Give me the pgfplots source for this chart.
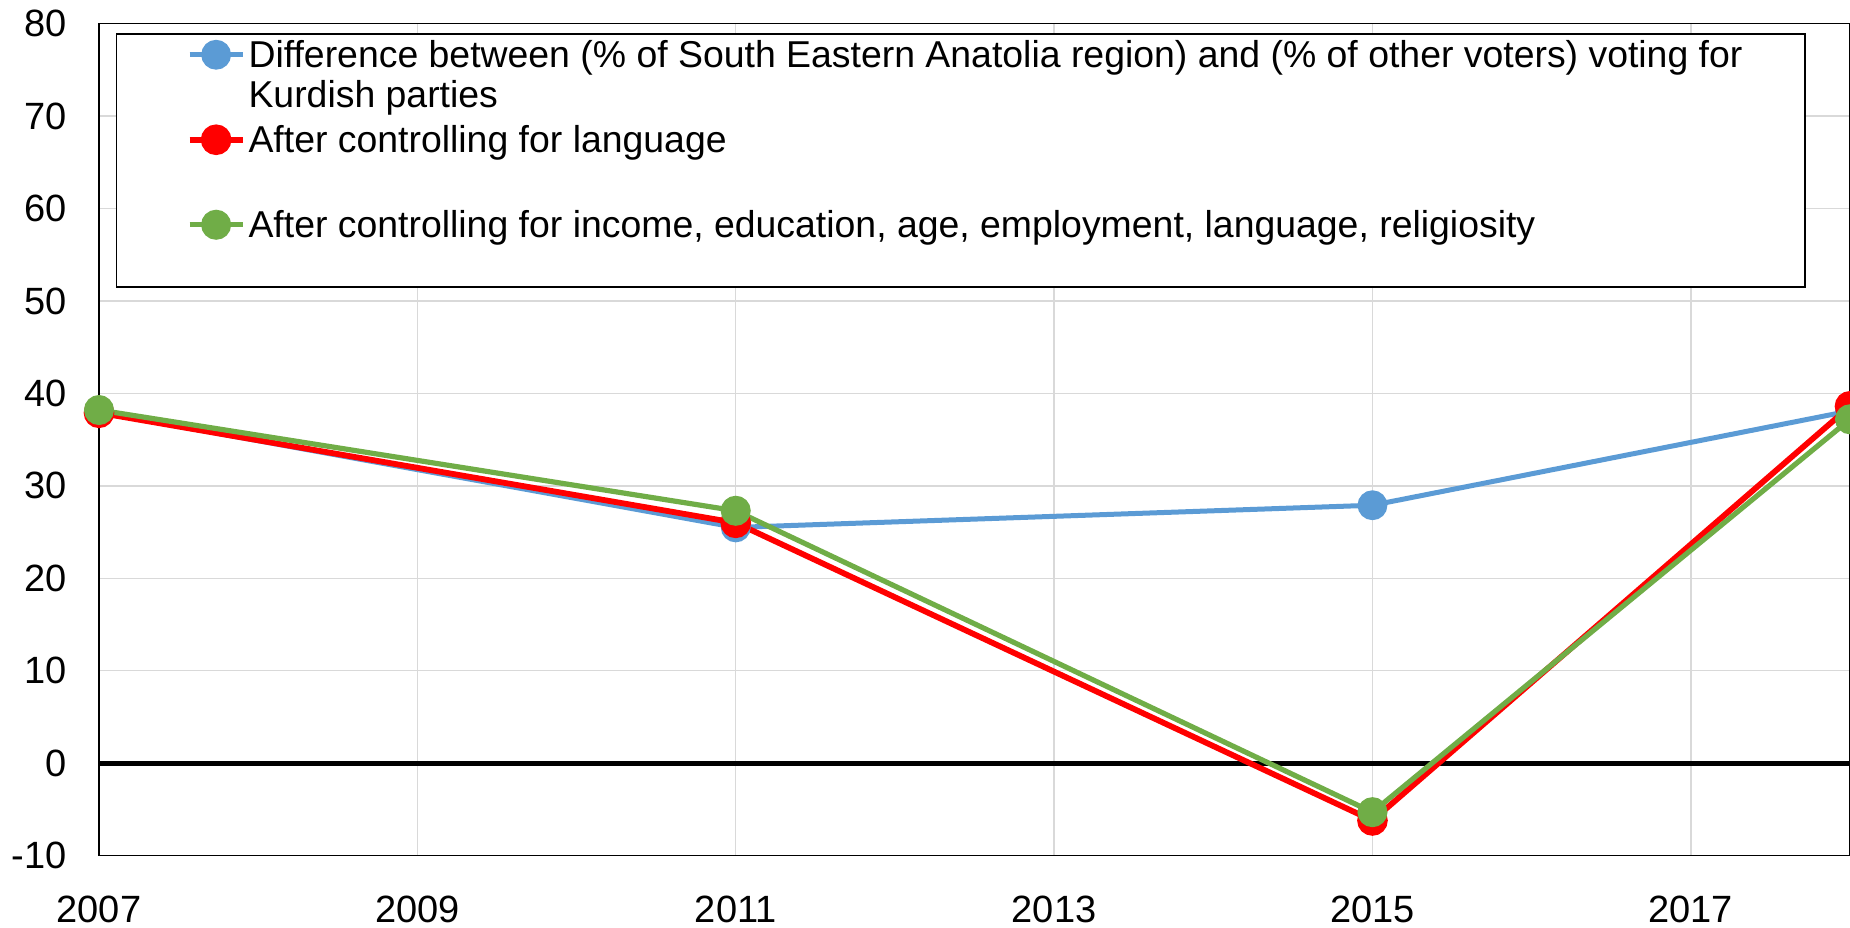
\documentclass[border=0pt]{standalone}
\usepackage{pgfplots}
\pgfplotsset{compat=1.18}
\usepackage{fontspec}
\setmainfont{Liberation Sans}
\definecolor{cblue}{HTML}{5B9BD5}
\definecolor{cred}{HTML}{FF0000}
\definecolor{cgreen}{HTML}{70AD47}
\definecolor{cgrid}{HTML}{D9D9D9}
\begin{document}
\begin{tikzpicture}
\clip (-49.5pt,-35.8pt) rectangle (875.5pt,427.8pt);
\begin{axis}[
 scale only axis, width=875.5pt, height=416pt,
 xmin=2007, xmax=2018, ymin=-10, ymax=80,
 xtick={2007,2009,2011,2013,2015,2017},
 ytick={-10,0,10,20,30,40,50,60,70,80},
 grid=major, grid style={cgrid, line width=0.75pt},
 major tick length=0pt,
 axis line style={black, line width=0.75pt},
 /pgf/number format/assume math mode=true,
 /pgf/number format/1000 sep={},
 tick label style={font=\fontsize{19}{22}\selectfont},
 yticklabel style={inner sep=0pt, xshift=-16pt},
 xticklabel style={inner sep=0pt, yshift=-20pt},
 extra y ticks={0}, extra y tick labels={},
 extra tick style={grid style={black, line width=2.5pt}},
 legend style={at={(0.0097,0.9887)}, anchor=north west, draw=black, line width=0.75pt,
   inner xsep=29.7pt, inner ysep=3pt, row sep=7pt,
   nodes={inner xsep=1.5pt, inner ysep=0pt},
   font=\fontsize{18.7}{20}\selectfont},
 legend cell align=left,
 legend style={cells={align=left, anchor=base west}},
 legend image code/.code={\path (-5.3pt,26.5pt); \draw[#1, mark repeat=2, mark phase=2] plot coordinates {(0pt,26.5pt) (13.25pt,26.5pt) (26.5pt,26.5pt)};},
]
\addplot[cblue, line width=2.5pt, mark=*, mark size=6.2pt, mark options={solid, fill=cblue, draw=none}] coordinates {(2007,38.0) (2011,25.5) (2015,27.9) (2018,38.1)};
\addlegendentry{\strut Difference between (\% of South Eastern Anatolia region) and (\% of other voters) voting for\\Kurdish parties\strut}
\addplot[cred, line width=2.9pt, mark=*, mark size=6.2pt, mark options={solid, fill=cred, draw=none}] coordinates {(2007,37.9) (2011,26.0) (2015,-6.2) (2018,38.6)};
\addlegendentry{\strut After controlling for language\\\strut}
\addplot[cgreen, line width=2.6pt, mark=*, mark size=6.2pt, mark options={solid, fill=cgreen, draw=none}] coordinates {(2007,38.2) (2011,27.3) (2015,-5.3) (2018,37.2)};
\addlegendentry{\strut After controlling for income, education, age, employment, language, religiosity\\\strut}
\end{axis}
\end{tikzpicture}
\end{document}
